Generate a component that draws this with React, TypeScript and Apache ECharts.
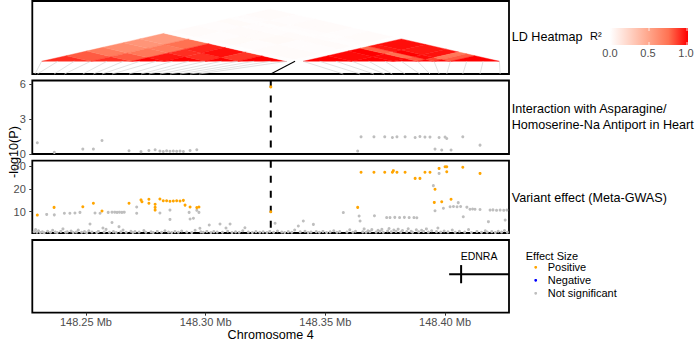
import React, { useEffect, useRef } from 'react';
import * as echarts from 'echarts';

// ---- axis ranges and ticks ----
const X_MIN = 148.2276;
const X_MAX = 148.4267;
const xTicks = [148.25, 148.3, 148.35, 148.4];
const interactionTicks = [0, 3, 6];
const gwasTicks = [10, 20, 30];
const LEAD_POS = 148.3272;

// ---- LD heatmap: SNP groups (sizes in SNPs) and pairwise R² between groups ----
const ldGroupSizes = [6, 5, 4, 5, 4, 6, 2, 6, 5, 3, 2, 2, 6];
// row a holds R² for groups b = a .. last
const ldR2Rows = [
  [0.9, 0.8, 0.7, 0.62, 0.58, 0.55, 0.01, 0.02, 0.015, 0.025, 0.01, 0.015, 0.02],
  [0.9, 0.8, 0.72, 0.7, 0.75, 0.01, 0.015, 0.02, 0.015, 0.01, 0.02, 0.015],
  [1.0, 0.95, 0.9, 0.92, 0.01, 0.025, 0.02, 0.015, 0.01, 0.015, 0.02],
  [1.0, 0.9, 0.97, 0.005, 0.015, 0.03, 0.02, 0.01, 0.015, 0.02],
  [1.0, 0.88, 0.01, 0.02, 0.015, 0.02, 0.015, 0.01, 0.015],
  [1.0, 0.01, 0.02, 0.015, 0.02, 0.01, 0.015, 0.02],
  [0.0, 0.01, 0.005, 0.01, 0.005, 0.01, 0.005],
  [1.0, 0.98, 1.0, 0.78, 0.95, 0.97],
  [1.0, 0.98, 0.75, 1.0, 0.95],
  [1.0, 0.8, 0.98, 0.96],
  [1.0, 0.85, 0.72],
  [1.0, 0.8],
  [1.0],
];
// [genomic position (Mb), heatmap SNP index]
const ldLinks = [
  [148.2287, 0], [148.2297, 2], [148.2367, 4], [148.241, 6], [148.2487, 8],
  [148.2531, 10], [148.2567, 12], [148.2609, 14], [148.268, 16], [148.273, 18],
  [148.2763, 20], [148.2809, 22], [148.2851, 24], [148.2893, 26], [148.2935, 28],
  [148.2972, 30],
  [148.3575, 32], [148.3645, 34], [148.3703, 36], [148.3748, 38], [148.378, 40],
  [148.3833, 42], [148.3895, 44], [148.3937, 46], [148.3975, 48], [148.4007, 50],
  [148.4074, 52], [148.4146, 54], [148.423, 56],
];
const ldLeadLink = [[LEAD_POS, 31]];
const r2LegendTicks = [0, 0.5, 1];

// ---- Interaction with Asparagine/Homoserine-Na antiport: -log10(P) ----
const interactionGrey = [
  [148.2297, 0.96], [148.2368, 0.14], [148.2487, 0.42], [148.2531, 0.42], [148.2567, 1.16],
  [148.268, 0.28], [148.273, 0.2], [148.2763, 0.3], [148.2789, 0.37], [148.2809, 0.25],
  [148.2823, 0.22], [148.2837, 0.27], [148.2851, 0.24], [148.2865, 0.26], [148.2879, 0.23],
  [148.2893, 0.25], [148.2907, 0.22], [148.2935, 0.3], [148.2963, 0.37],
  [148.3635, 0.25], [148.3649, 1.47], [148.3703, 1.47], [148.3748, 1.47], [148.378, 1.42],
  [148.3799, 1.47], [148.3833, 1.47], [148.3875, 1.42], [148.3895, 1.5], [148.3916, 1.45],
  [148.3937, 1.45], [148.3975, 1.42], [148.4, 1.45], [148.4007, 1.33], [148.4074, 1.47],
  [148.3958, 0.42], [148.3986, 0.34], [148.4025, 0.34], [148.4146, 0.76],
];
const interactionPositive = [[LEAD_POS, 5.75]];
const interactionNegative: number[][] = [];

// ---- Variant effect (Meta-GWAS): -log10(P) ----
const gwasPositive = [
  [148.2297, 8.5], [148.2367, 11.9], [148.2487, 12.2], [148.2531, 13.7], [148.2567, 10.3],
  [148.268, 13.7], [148.273, 15.2], [148.2734, 14.4], [148.2763, 15.5], [148.2763, 13.7],
  [148.2789, 13.3], [148.2789, 11.9], [148.2789, 10.7], [148.2809, 15.6], [148.2823, 14.8],
  [148.2837, 14.8], [148.2851, 14.6], [148.2865, 14.7], [148.2879, 14.8], [148.2893, 14.7],
  [148.2907, 15.0], [148.2914, 12.9], [148.2935, 12.1], [148.2963, 11.8], [148.2972, 12.1],
  [LEAD_POS, 10.0],
  [148.3635, 11.9], [148.3649, 27.4], [148.3703, 27.4], [148.3748, 27.4], [148.378, 27.4],
  [148.3784, 28.1], [148.3799, 27.4], [148.3833, 27.4], [148.3875, 24.7], [148.3895, 24.7],
  [148.3916, 27.4], [148.3937, 27.4], [148.3958, 19.9], [148.3955, 14.1], [148.3975, 29.1],
  [148.3986, 14.4], [148.4, 29.8], [148.4007, 29.8], [148.4007, 27.6], [148.4025, 15.5],
  [148.4074, 29.6], [148.4146, 26.9],
];
const gwasNegative: number[][] = [];
const gwasGrey = [
  [148.2336, 8.8], [148.2368, 8.6], [148.241, 9.3], [148.2433, 9.3], [148.2454, 9.4],
  [148.2475, 9.7], [148.2538, 9.4], [148.2559, 9.3], [148.2593, 9.7], [148.2609, 9.8],
  [148.262, 9.8], [148.263, 9.7], [148.264, 9.8], [148.265, 9.7], [148.266, 9.8],
  [148.2712, 9.3], [148.2712, 12.1], [148.2809, 9.4], [148.2851, 10.7], [148.2931, 9.7],
  [148.2935, 6.8], [148.2949, 7.1], [148.2963, 10.6], [148.2972, 9.7],
  [148.2517, 4.6], [148.2609, 5.2], [148.2571, 2.8], [148.2638, 3.4], [148.2851, 6.6],
  [148.2976, 2.7], [148.3015, 4.1], [148.306, 4.6], [148.3102, 4.6], [148.3085, 2.8],
  [148.3164, 2.9], [148.329, 4.9], [148.3408, 5.9], [148.3387, 3.7], [148.345, 4.4],
  [148.3975, 26.9], [148.3951, 21.5], [148.3575, 9.6], [148.3641, 8.1], [148.3645, 5.9],
  [148.3705, 8.2], [148.3756, 7.4], [148.377, 7.4], [148.379, 7.5], [148.381, 7.4],
  [148.383, 7.5], [148.385, 7.4], [148.387, 7.4], [148.3882, 7.3], [148.3958, 10.4],
  [148.3993, 11.5], [148.4021, 12.2], [148.4035, 12.3], [148.405, 12.2], [148.4065, 12.3],
  [148.4091, 12.0], [148.4055, 14.0], [148.4076, 7.8], [148.4104, 11.1], [148.4115, 11.2],
  [148.4125, 11.1], [148.4146, 11.0], [148.4181, 5.6], [148.4188, 10.7], [148.42, 10.8],
  [148.4215, 10.6], [148.423, 10.7], [148.4245, 10.6], [148.4258, 10.7], [148.4251, 6.3],
  [148.2284, 1.2], [148.229, 2.1], [148.2295, 0.9], [148.2302, 1.6], [148.231, 0.8],
  [148.2318, 1.1], [148.2326, 0.7], [148.234, 1.4], [148.2352, 0.9], [148.2361, 1.8],
  [148.2372, 1.0], [148.238, 0.8], [148.2395, 1.3], [148.2404, 2.4], [148.2415, 0.9],
  [148.2422, 1.1], [148.2438, 1.5], [148.2447, 0.8], [148.246, 1.0], [148.2468, 1.9],
  [148.2482, 0.9], [148.2494, 1.2], [148.2503, 0.7], [148.2512, 1.6], [148.2525, 1.0],
  [148.2545, 0.8], [148.2552, 1.3], [148.2576, 1.0], [148.2584, 2.2], [148.2598, 0.9],
  [148.2615, 1.2], [148.2626, 0.8], [148.2646, 1.1], [148.2655, 1.9], [148.2668, 0.9],
  [148.2688, 1.4], [148.2696, 0.8], [148.2705, 1.2], [148.2722, 1.0], [148.2742, 1.7],
  [148.275, 0.9], [148.2772, 1.1], [148.2781, 0.8], [148.2798, 1.3], [148.2816, 0.9],
  [148.283, 1.6], [148.2845, 1.0], [148.2858, 0.8], [148.2872, 1.2], [148.2886, 0.9],
  [148.29, 1.5], [148.2921, 1.0], [148.2942, 0.8], [148.2956, 1.8], [148.298, 1.1],
  [148.299, 0.9], [148.3005, 1.3], [148.3022, 0.8], [148.3034, 1.2], [148.3048, 1.0],
  [148.307, 0.9], [148.3092, 1.4], [148.311, 0.8], [148.3125, 1.1], [148.314, 0.9],
  [148.3155, 1.6], [148.3178, 1.0], [148.3195, 0.8], [148.321, 1.2], [148.3226, 0.9],
  [148.324, 1.1], [148.3256, 0.8], [148.3268, 1.3], [148.3284, 0.9], [148.33, 1.5],
  [148.3318, 1.0], [148.333, 0.8], [148.3345, 1.2], [148.336, 0.9], [148.3372, 1.9],
  [148.3395, 1.1], [148.3415, 1.4], [148.3428, 0.8], [148.344, 1.0], [148.3462, 1.2],
  [148.3475, 0.9], [148.349, 1.3], [148.3505, 0.8], [148.352, 1.1], [148.3535, 1.6],
  [148.3548, 0.9], [148.356, 1.2], [148.359, 1.0], [148.3602, 2.0], [148.3615, 0.9],
  [148.3626, 1.4], [148.3656, 1.1], [148.3662, 2.4], [148.367, 0.9], [148.3678, 1.6],
  [148.3686, 1.2], [148.3694, 2.1], [148.3712, 1.0], [148.372, 1.8], [148.3728, 1.3],
  [148.3736, 2.2], [148.3742, 0.9], [148.376, 1.5], [148.3766, 2.6], [148.3775, 1.1],
  [148.3786, 1.9], [148.3795, 1.3], [148.3804, 2.3], [148.3815, 1.0], [148.3822, 1.7],
  [148.384, 1.2], [148.3846, 2.5], [148.3858, 1.4], [148.3864, 0.9], [148.388, 2.0],
  [148.389, 1.1], [148.3902, 1.8], [148.391, 1.3], [148.3922, 2.4], [148.393, 1.0],
  [148.3944, 1.6], [148.3964, 1.2], [148.397, 2.8], [148.3982, 1.0], [148.3996, 1.5],
  [148.4012, 1.1], [148.403, 1.9], [148.4042, 0.9], [148.406, 1.4], [148.4082, 1.0],
  [148.4098, 2.1], [148.411, 0.8], [148.4133, 1.3], [148.4152, 0.9], [148.4168, 1.6],
  [148.4176, 1.0], [148.4195, 1.2], [148.421, 0.8], [148.4222, 1.4], [148.4236, 1.0],
  [148.4248, 1.7], [148.426, 0.9],
];

// ---- gene track ----
const geneName = 'EDNRA';
const geneStart = 148.4017;
const geneEnd = 148.4661;
const geneExons = [148.4067];

// ---- styling ----
const FONT = "'Liberation Sans', Arial, Helvetica, sans-serif";
const COL_POS = '#FFA500';
const COL_NEG = '#0000FF';
const COL_NS = '#BEBEBE';
const TICK_TXT = '#4D4D4D';

const GRID_LEFT = 32.3;
const GRID_W = 476.7;

// heatmap layout (in the LD panel's own units: genomic Mb on x, px on y)
const HM_START = 148.2315;
const HM_END = 148.4227;
const LD_BASE = 12.7;
const LD_VSCALE = 546.8;
const GENE_Y = 0.53;
const EXON_HALF = 0.125;
const GENE_LABEL_Y = 0.78;

const r2Stops: [number, number[]][] = [
  [0, [255, 255, 255]],
  [0.25, [255, 211, 197]],
  [0.5, [255, 165, 138]],
  [0.75, [255, 114, 82]],
  [1, [255, 0, 0]],
];

function r2Color(v: number): string {
  const t = Math.max(0, Math.min(1, v));
  for (let k = 1; k < r2Stops.length; k++) {
    const [t1, c1] = r2Stops[k];
    const [t0, c0] = r2Stops[k - 1];
    if (t <= t1) {
      const f = (t - t0) / (t1 - t0);
      const c = c0.map((x, i) => Math.round(x + (c1[i] - x) * f));
      return `rgb(${c[0]},${c[1]},${c[2]})`;
    }
  }
  return 'rgb(255,0,0)';
}

const ldTotal = ldGroupSizes.reduce((s, v) => s + v, 0);
const ldGroupStart: number[] = [];
ldGroupSizes.reduce((s, v, i) => {
  ldGroupStart[i] = s;
  return s + v;
}, 0);
const hp = (i: number) => HM_START + (i / ldTotal) * (HM_END - HM_START);
const cellPt = (i: number, j: number) => [(hp(i) + hp(j)) / 2, LD_BASE + ((hp(j) - hp(i)) / 2) * LD_VSCALE];

const ldCells: number[][] = [];
ldR2Rows.forEach((row, a) => {
  row.forEach((v, k) => ldCells.push([a, a + k, v]));
});

function buildOption(): any {
  const grids = [
    { top: 1, height: 73 },
    { top: 80.5, height: 73.5 },
    { top: 160.7, height: 72.3 },
    { top: 240, height: 72.7 },
  ].map((g) => ({
    left: GRID_LEFT,
    width: GRID_W,
    top: g.top,
    height: g.height,
    show: true,
    borderColor: '#000',
    borderWidth: 1.8,
    backgroundColor: 'transparent',
  }));

  const hiddenX = (gi: number) => ({
    type: 'value', gridIndex: gi, min: X_MIN, max: X_MAX, show: false,
  });

  const xAxis = [
    hiddenX(0),
    hiddenX(1),
    hiddenX(2),
    {
      type: 'value', gridIndex: 3, min: X_MIN, max: X_MAX,
      axisLine: { show: false },
      splitLine: { show: false },
      axisTick: { show: true, length: 3, customValues: xTicks, lineStyle: { color: '#333', width: 1 } },
      axisLabel: {
        show: true, customValues: xTicks, margin: 4, color: TICK_TXT, fontSize: 11, fontFamily: FONT,
        formatter: (v: number) => `${v.toFixed(2)} Mb`,
      },
    },
  ];

  const yNum = (gi: number, min: number, max: number, ticks: number[]) => ({
    type: 'value', gridIndex: gi, min, max,
    axisLine: { show: false },
    splitLine: { show: false },
    axisTick: { show: true, length: 3, customValues: ticks, lineStyle: { color: '#333', width: 1 } },
    axisLabel: { show: true, customValues: ticks, margin: 6.5, color: TICK_TXT, fontSize: 11, fontFamily: FONT },
  });

  const yAxis = [
    { type: 'value', gridIndex: 0, min: 0, max: 73, show: false },
    yNum(1, 0, 6.3, interactionTicks),
    yNum(2, 0.6, 32.5, gwasTicks),
    { type: 'value', gridIndex: 3, min: 0, max: 1, show: false },
  ];

  // vertical dashed marker at the lead variant, spanning a whole panel
  const leadLine = (gi: number) => ({
    type: 'custom', name: 'lead variant', xAxisIndex: gi, yAxisIndex: gi,
    data: [[LEAD_POS]], encode: { x: 0, y: -1 }, silent: true,
    renderItem: (params: any, api: any) => {
      const cs = params.coordSys;
      const x = api.coord([api.value(0), 1])[0];
      return {
        type: 'line',
        shape: { x1: x, y1: cs.y, x2: x, y2: cs.y + cs.height },
        style: { stroke: '#000', lineWidth: 2, lineDash: [7, 8] },
      };
    },
  });

  const scatter = (name: string, data: number[][], color: string, gi: number) => ({
    type: 'scatter', name, data, xAxisIndex: gi, yAxisIndex: gi,
    symbol: 'circle', symbolSize: 3, itemStyle: { color, opacity: 1 },
  });

  const series: any[] = [
    {
      type: 'custom', name: 'LD cells', xAxisIndex: 0, yAxisIndex: 0, data: ldCells,
      encode: { x: -1, y: -1 },
      renderItem: (_p: any, api: any) => {
        const a = api.value(0);
        const b = api.value(1);
        const col = r2Color(api.value(2));
        const sa = ldGroupStart[a];
        const ea = sa + ldGroupSizes[a];
        const sb = ldGroupStart[b];
        const eb = sb + ldGroupSizes[b];
        const pts = a === b
          ? [cellPt(sa, sa), cellPt(sa, ea), cellPt(ea, ea)]
          : [cellPt(sa, sb), cellPt(ea, sb), cellPt(ea, eb), cellPt(sa, eb)];
        return {
          type: 'polygon',
          shape: { points: pts.map((p) => api.coord(p)) },
          style: { fill: col, stroke: col, lineWidth: 0.4 },
        };
      },
    },
    {
      type: 'custom', name: 'LD links', xAxisIndex: 0, yAxisIndex: 0, data: ldLinks,
      encode: { x: 0, y: -1 },
      renderItem: (_p: any, api: any) => {
        const top = api.coord([hp(api.value(1)), LD_BASE]);
        const bot = api.coord([api.value(0), 0]);
        return {
          type: 'line',
          shape: { x1: top[0], y1: top[1], x2: bot[0], y2: bot[1] },
          style: { stroke: '#D6D6D6', lineWidth: 0.7 },
        };
      },
    },
    {
      type: 'custom', name: 'LD lead link', xAxisIndex: 0, yAxisIndex: 0, data: ldLeadLink,
      encode: { x: 0, y: -1 },
      renderItem: (_p: any, api: any) => {
        const top = api.coord([hp(api.value(1)), LD_BASE]);
        const bot = api.coord([api.value(0), 0]);
        return {
          type: 'line',
          shape: { x1: top[0], y1: top[1], x2: bot[0], y2: bot[1] },
          style: { stroke: '#000', lineWidth: 1.1 },
        };
      },
    },
    leadLine(1),
    leadLine(2),
    scatter('Not significant', interactionGrey, COL_NS, 1),
    scatter('Negative', interactionNegative, COL_NEG, 1),
    scatter('Positive', interactionPositive, COL_POS, 1),
    scatter('Not significant', gwasGrey, COL_NS, 2),
    scatter('Negative', gwasNegative, COL_NEG, 2),
    scatter('Positive', gwasPositive, COL_POS, 2),
    {
      type: 'custom', name: 'Genes', xAxisIndex: 3, yAxisIndex: 3,
      data: [[geneStart, geneEnd]],
      encode: { x: [0, 1], y: -1 },
      renderItem: (params: any, api: any) => {
        const cs = params.coordSys;
        const s = api.coord([api.value(0), GENE_Y]);
        const e = api.coord([api.value(1), GENE_Y]);
        const x1 = Math.max(s[0], cs.x);
        const x2 = Math.min(e[0], cs.x + cs.width);
        const labelY = api.coord([api.value(0), GENE_LABEL_Y])[1];
        const children: any[] = [
          { type: 'line', shape: { x1, y1: s[1], x2, y2: s[1] }, style: { stroke: '#000', lineWidth: 2 } },
        ];
        geneExons.forEach((ex) => {
          const t = api.coord([ex, GENE_Y + EXON_HALF]);
          const b = api.coord([ex, GENE_Y - EXON_HALF]);
          children.push({ type: 'line', shape: { x1: t[0], y1: t[1], x2: b[0], y2: b[1] }, style: { stroke: '#000', lineWidth: 2 } });
        });
        children.push({
          type: 'text', x: (x1 + x2) / 2, y: labelY,
          style: {
            text: geneName, fill: '#000', fontSize: 10.5, fontFamily: FONT,
            textAlign: 'center', textVerticalAlign: 'middle', align: 'center', verticalAlign: 'middle',
          },
        });
        return { type: 'group', children };
      },
    },
  ];

  const txt = (text: string, x: number, y: number, size: number, fill = '#000', align = 'left', extra: any = {}) => ({
    type: 'text', x, y, silent: true, ...extra,
    style: {
      text, fill, fontSize: size, fontFamily: FONT,
      textAlign: align, textVerticalAlign: 'middle', align, verticalAlign: 'middle',
    },
  });

  const barX = 610;
  const barW = 78;
  const graphic: any[] = [
    txt('LD Heatmap', 511.7, 37, 12.6),
    txt('R²', 590, 36, 11),
    {
      type: 'rect', silent: true,
      shape: { x: barX, y: 28, width: barW, height: 17 },
      style: {
        fill: {
          type: 'linear', x: 0, y: 0, x2: 1, y2: 0,
          colorStops: r2Stops.map(([o]) => ({ offset: o, color: r2Color(o) })),
        },
      },
    },
    ...r2LegendTicks.flatMap((v) => {
      const x = barX + v * (barW - 2) + 1;
      return [
        { type: 'line', silent: true, shape: { x1: x, y1: 28, x2: x, y2: 31 }, style: { stroke: '#fff', lineWidth: 0.8 } },
        { type: 'line', silent: true, shape: { x1: x, y1: 42, x2: x, y2: 45 }, style: { stroke: '#fff', lineWidth: 0.8 } },
        txt(v.toFixed(1), x - 1, 53, 11, TICK_TXT, 'center'),
      ];
    }),
    txt('Interaction with Asparagine/', 511.7, 109.3, 12.6),
    txt('Homoserine-Na Antiport in Heart', 511.7, 125, 12.6),
    txt('Variant effect (Meta-GWAS)', 511.7, 198.3, 12.6),
    txt('Effect Size', 525.7, 256, 11),
    ...[
      ['Positive', COL_POS],
      ['Negative', COL_NEG],
      ['Not significant', COL_NS],
    ].flatMap(([label, color], i) => {
      const y = 267.3 + i * 13;
      return [
        { type: 'circle', silent: true, shape: { cx: 535.7, cy: y, r: 1.4 }, style: { fill: color } },
        txt(label, 547.7, y, 11),
      ];
    }),
    txt('-log10(P)', 14, 152, 12.6, '#000', 'center', { rotation: Math.PI / 2 }),
    txt('Chromosome 4', GRID_LEFT + GRID_W / 2, 335.3, 12.6, '#000', 'center'),
  ];

  return {
    animation: false,
    backgroundColor: '#fff',
    textStyle: { fontFamily: FONT },
    grid: grids,
    xAxis,
    yAxis,
    series,
    graphic,
  };
}

export default function App() {
  const ref = useRef<HTMLDivElement>(null);
  useEffect(() => {
    if (!ref.current) return;
    const chart = echarts.init(ref.current, null, { renderer: 'svg' });
    chart.setOption(buildOption());
    return () => chart.dispose();
  }, []);
  return (
    <div
      ref={ref}
      style={{ position: 'fixed', left: 0, top: 0, width: 698, height: 341, background: '#fff' }}
    />
  );
}
